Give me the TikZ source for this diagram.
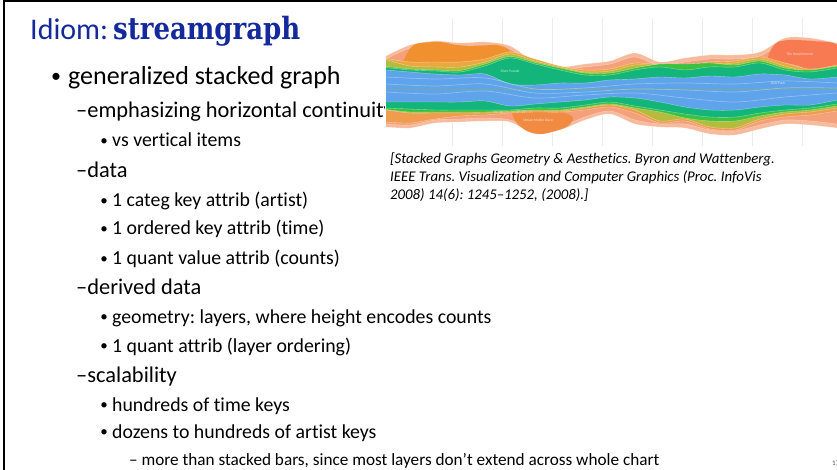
\documentclass[tikz,border=0pt]{standalone}
\usepackage{fontspec}
\setmainfont[Ligatures={TeX,NoCommon}]{Carlito}
\newfontfamily\slabfont{DejaVu Serif}
\usetikzlibrary{positioning}
\frenchspacing
\definecolor{titleblue}{HTML}{14299B}
\definecolor{salmonlt}{HTML}{F7BA9C}
\definecolor{salmonmd}{HTML}{F4A07B}
\definecolor{widoworange}{HTML}{F0902E}
\definecolor{hoodred}{HTML}{F77A52}
\definecolor{amber}{HTML}{EBA83F}
\definecolor{lowamber}{HTML}{F09C4E}
\definecolor{streamolive}{HTML}{B5BB3D}
\definecolor{brightgreen}{HTML}{3DC23F}
\definecolor{teal}{HTML}{13B57B}
\definecolor{streamblue}{HTML}{5FA3EA}
\definecolor{simianorange}{HTML}{F28B42}
\tikzset{
  headtext/.style={anchor=base west,inner sep=0pt,text=titleblue,font=\fontsize{30}{34}\selectfont},
  levelone/.style={anchor=base west,inner sep=0pt,font=\fontsize{26}{30}\selectfont},
  leveltwo/.style={anchor=base west,inner sep=0pt,font=\fontsize{22.4}{26}\selectfont},
  levelthree/.style={anchor=base west,inner sep=0pt,font=\fontsize{19.8}{23}\selectfont},
  levelfour/.style={anchor=base west,inner sep=0pt,font=\fontsize{17.2}{20}\selectfont},
  bulletone/.style={anchor=base,inner sep=0pt,yshift=2.5pt,font=\fontsize{20}{22}\selectfont},
  bulletthree/.style={anchor=base,inner sep=0pt,yshift=1.5pt,font=\fontsize{15}{17}\selectfont},
  citetext/.style={anchor=base west,inner sep=0pt,font=\fontsize{14.8}{18}\selectfont\itshape},
  seam/.style={white,opacity=0.45,line width=0.4pt},
  stripe/.style={white,opacity=0.3,line width=0.7pt},
  gridline/.style={black!8,line width=0.6pt},
  bandlabel/.style={text=white,opacity=0.75,font=\fontsize{3.6}{4}\selectfont,inner sep=0pt},
}
% one stream layer: filled from its edge to the middle line y=90
\newcommand{\streamband}[2]{%
  \fill[#1] plot[smooth] coordinates {#2} -- (837,90) -- (386,90) -- cycle;
  \draw[seam] plot[smooth] coordinates {#2};}

\begin{document}
\begin{tikzpicture}[x=1pt,y=-1pt]
  \useasboundingbox (0,0) rectangle (837,470);
  \draw[line width=2pt] (3.5,470) -- (3.5,1) -- (837,1);

  % title
  \node[headtext] (idiom) at (30,40) {Idiom:};
  \node[headtext,font=\slabfont\bfseries\fontsize{26}{30}\selectfont] (idiomname) at (113,40)
    {\scalebox{1}[1.18]{streamgraph}};

  % bullet list
  \node[bulletone] (b1) at (56,85) {\textbullet};
  \node[levelone] (l1) at (68,85) {generalized stacked graph};
  \node[leveltwo] (l2a) at (76,118) {--emphasizing horizontal continuity};
  \node[bulletthree] (b3a) at (104,147) {\textbullet};
  \node[levelthree] (l3a) at (112,147) {vs vertical items};
  \node[leveltwo] (l2b) at (76,178) {--data};
  \node[bulletthree] (b3b) at (104,207) {\textbullet};
  \node[levelthree] (l3b) at (112,207) {1 categ key attrib (artist)};
  \node[bulletthree] (b3c) at (104,235) {\textbullet};
  \node[levelthree] (l3c) at (112,235) {1 ordered key attrib (time)};
  \node[bulletthree] (b3d) at (104,265) {\textbullet};
  \node[levelthree] (l3d) at (112,265) {1 quant value attrib (counts)};
  \node[leveltwo] (l2c) at (76,294) {--derived data};
  \node[bulletthree] (b3e) at (104,323) {\textbullet};
  \node[levelthree] (l3e) at (112,323) {geometry: layers, where height encodes counts};
  \node[bulletthree] (b3f) at (104,352) {\textbullet};
  \node[levelthree] (l3f) at (112,352) {1 quant attrib (layer ordering)};
  \node[leveltwo] (l2d) at (76,382) {--scalability};
  \node[bulletthree] (b3g) at (104,411) {\textbullet};
  \node[levelthree] (l3g) at (112,411) {hundreds of time keys};
  \node[bulletthree] (b3h) at (104,438) {\textbullet};
  \node[levelthree] (l3h) at (112,438) {dozens to hundreds of artist keys};
  \node[levelfour] (l4a) at (129,465) {-- more than stacked bars, since most layers don't extend across whole chart};
  \node[anchor=base west,inner sep=0pt,font=\fontsize{7}{8}\selectfont,text=black!70] (pagenum) at (832,465) {17};

  % streamgraph picture
  \fill[white] (385,18) rectangle (837,146);
  \foreach \gx in {452,502,...,802}
    \draw[gridline] (\gx,18) -- (\gx,146);

  \streamband{salmonlt}{(386,56) (410,45) (435,41) (460,43) (485,42) (510,46) (535,62) (560,67) (585,64) (610,61) (635,53) (660,62) (685,58) (710,55) (735,55) (760,52) (785,38) (810,38) (837,43)}
  \streamband{salmonmd}{(386,59) (410,48) (435,44) (460,46) (485,45) (510,49) (535,65) (560,70) (585,67) (610,64) (635,57) (660,66) (685,62) (710,59) (735,59) (760,56) (785,42) (810,42) (837,47)}
  \fill[widoworange] plot[smooth cycle] coordinates {(403,64) (408,52) (416,44) (440,42) (456,45) (478,46) (497,45) (509,50) (505,60) (480,64) (440,65) (412,65)};
  \fill[hoodred] plot[smooth cycle] coordinates {(768,58) (772,48) (778,42) (790,40) (812,41) (837,45) (837,68) (822,70) (812,72) (800,66) (786,63) (774,61)};
  \streamband{amber}{(386,58.5) (410,62) (435,62) (460,62) (485,59) (510,52) (535,59) (560,66) (585,70) (610,69) (635,63) (660,65) (685,66) (710,62) (735,61) (760,57) (785,63) (810,69) (837,65)}
  \streamband{streamolive}{(386,59.5) (410,66) (435,67) (460,67) (485,62) (510,54) (535,61) (560,67) (585,72) (610,71) (635,65) (660,66) (685,67) (710,64) (735,63) (760,59) (785,66) (810,71) (837,66)}
  \streamband{brightgreen}{(386,66.5) (410,69) (435,70) (460,70.5) (485,64) (510,56.5) (535,62.5) (560,68) (585,73) (610,73) (635,68) (660,64) (685,64) (710,63) (735,65) (760,61) (785,68) (810,70) (837,66)}
  \streamband{teal}{(386,67.5) (410,70) (435,71) (460,72) (485,66) (510,58) (535,64) (560,70) (585,75) (610,75) (635,70) (660,67) (685,70) (710,67) (735,67) (760,63) (785,70) (810,72) (837,68)}
  \streamband{streamblue}{(386,70) (410,72) (435,74) (460,75) (485,74) (510,84) (535,85) (560,83) (585,83) (610,80) (635,79) (660,77) (685,78) (710,76) (735,77) (760,74) (785,75) (810,79) (837,77)}

  \streamband{salmonlt}{(386,127) (410,128) (435,123) (460,122) (485,121) (510,122) (535,134) (560,130) (585,120) (610,114) (635,124) (660,127) (685,128) (710,134) (735,135) (760,129) (785,124) (810,125) (837,128)}
  \streamband{salmonmd}{(386,124) (410,125) (435,120) (460,119) (485,118) (510,120) (535,131) (560,127) (585,117) (610,111) (635,120) (660,124) (685,124) (710,130) (735,131) (760,125) (785,120) (810,121) (837,124)}
  \fill[simianorange] plot[smooth cycle] coordinates {(511,108) (525,110) (545,112) (565,113) (573,118) (568,126) (555,131) (541,134) (527,131) (516,122)};
  \streamband{lowamber}{(386,122) (410,123) (435,119) (460,116) (485,115) (510,113) (535,112) (560,112) (585,110) (610,107) (635,113) (660,123) (685,121) (710,129) (735,130) (760,121) (785,117) (810,115) (837,111)}
  \streamband{streamolive}{(386,110) (410,113) (435,113) (460,113) (485,113) (510,112) (535,111) (560,111) (585,108) (610,105) (635,110) (660,121) (685,119) (710,127) (735,128) (760,119) (785,114) (810,112) (837,108)}
  \streamband{brightgreen}{(386,109.5) (410,112) (435,112) (460,112) (485,112) (510,111) (535,110) (560,110) (585,107) (610,104) (635,108) (660,112) (685,118) (710,121) (735,121) (760,116) (785,112) (810,110) (837,106)}
  \streamband{teal}{(386,108) (410,109) (435,110) (460,110) (485,110) (510,110) (535,108) (560,108) (585,105) (610,102) (635,106) (660,110) (685,114) (710,117) (735,117) (760,113) (785,110) (810,108) (837,104)}
  \streamband{streamblue}{(386,102) (410,102) (435,102) (460,102) (485,101) (510,106) (535,104) (560,102) (585,100) (610,97) (635,98) (660,102) (685,107) (710,110) (735,110) (760,107) (785,105) (810,105) (837,100)}

  \draw[stripe] plot[smooth] coordinates {(386,77) (435,79) (485,78) (535,89) (585,88) (635,84) (685,83) (735,84) (785,81) (837,83)};
  \draw[stripe] plot[smooth] coordinates {(386,84) (435,86) (485,84) (535,93) (585,92) (635,89) (685,90) (735,92) (785,88) (837,88)};
  \draw[stripe] plot[smooth] coordinates {(386,92) (435,94) (485,91) (535,98) (585,95) (635,93) (685,98) (735,102) (785,97) (837,93)};

  \node[bandlabel] (hoodlbl) at (800,54) {The Hood Internet};
  \node[bandlabel] (daftlbl) at (778,83) {Daft Punk};
  \node[bandlabel] (silverlbl) at (510,71) {Silver Parade};
  \node[bandlabel] (simianlbl) at (538,120) {Simian Mobile Disco};

  % reference below the picture
  \node[citetext] (cite1) at (390,164) {[Stacked Graphs Geometry \& Aesthetics. Byron and Wattenberg.};
  \node[citetext] (cite2) at (390,182) {IEEE Trans. Visualization and Computer Graphics (Proc. InfoVis};
  \node[citetext] (cite3) at (390,199.5) {2008) 14(6): 1245--1252, (2008).]};
\end{tikzpicture}
\end{document}
